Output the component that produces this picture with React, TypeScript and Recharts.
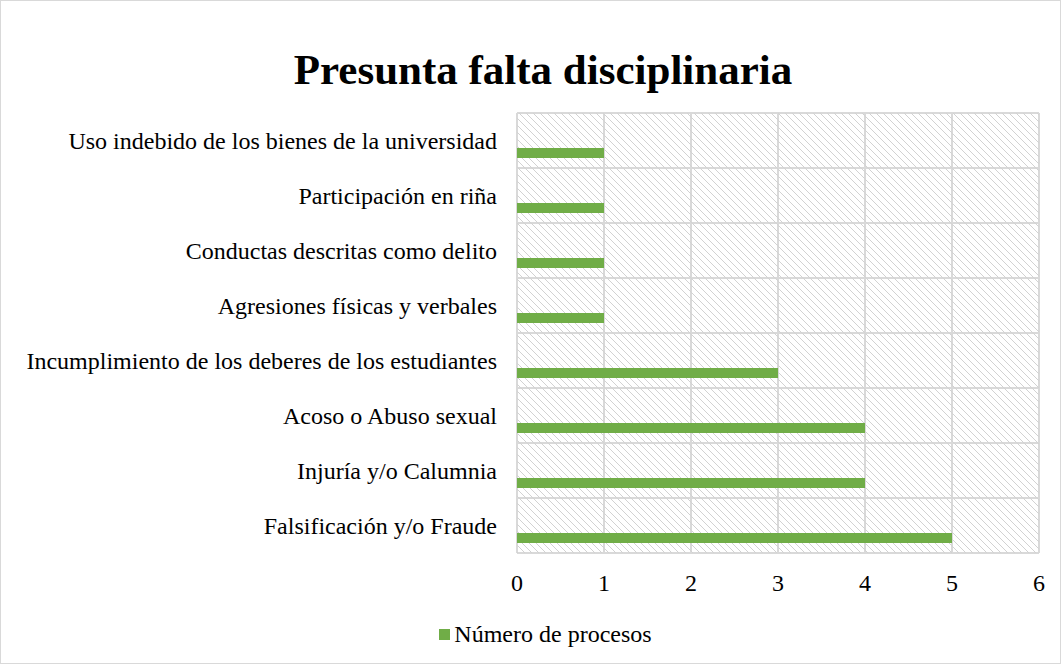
import React from 'react';
import { BarChart, Bar, XAxis, YAxis, CartesianGrid, ReferenceArea } from 'recharts';

const categories = [
  'Uso indebido de los bienes de la universidad',
  'Participación en riña',
  'Conductas descritas como delito',
  'Agresiones físicas y verbales',
  'Incumplimiento de los deberes de los estudiantes',
  'Acoso o Abuso sexual',
  'Injuría y/o Calumnia',
  'Falsificación y/o Fraude',
];
const procesos = [1, 1, 1, 1, 3, 4, 4, 5];
const xTicks = [0, 1, 2, 3, 4, 5, 6];

const data = categories.map((name, i) => ({ name, spacer: 0, procesos: procesos[i] }));

const FONT = '"Liberation Serif", "Times New Roman", serif';
const GREEN = '#70ad47';
const GRID = '#d9d9d9';

export default function App() {
  return (
    <div style={{ position: 'absolute', left: 0, top: 0, width: 1061, height: 664, background: '#fff' }}>
      <svg width="0" height="0" style={{ position: 'absolute' }}>
        <defs>
          <pattern id="hatch" width="7" height="7" patternUnits="userSpaceOnUse">
            <path d="M-1,-1 L8,8 M-4,3 L1,8 M3,-4 L11,4" stroke="#d2d2d2" strokeWidth="1" />
          </pattern>
        </defs>
      </svg>
      <div style={{ position: 'absolute', left: 0, top: 0, width: 1059, height: 662, border: `1px solid ${GRID}` }} />
      <div style={{ position: 'absolute', left: 0, top: 45, width: 1086, textAlign: 'center', fontFamily: FONT, fontWeight: 'bold', fontSize: 43, color: '#000' }}>
        Presunta falta disciplinaria
      </div>
      <BarChart
        width={1061}
        height={664}
        data={data}
        layout="vertical"
        margin={{ top: 113, right: 22, bottom: 81, left: 0 }}
        barSize={10}
        barGap={14}
        style={{ position: 'absolute', left: 0, top: 0 }}
      >
        <ReferenceArea x1={0} x2={6} fill="url(#hatch)" fillOpacity={1} stroke="none" ifOverflow="visible" />
        <CartesianGrid
          stroke={GRID}
          strokeWidth={2}
          horizontalCoordinatesGenerator={({ offset }: any) =>
            Array.from({ length: categories.length + 1 }, (_, i) => offset.top + (i * offset.height) / categories.length)
          }
        />
        <XAxis
          type="number"
          domain={[0, 6]}
          ticks={xTicks}
          height={30}
          axisLine={false}
          tickLine={false}
          tickSize={0}
          tickMargin={21}
          tick={{ fontSize: 24, fill: '#000', fontFamily: FONT }}
        />
        <YAxis
          type="category"
          dataKey="name"
          width={517}
          axisLine={false}
          tickLine={false}
          tickSize={0}
          tickMargin={20}
          interval={0}
          tick={{ fontSize: 24, fill: '#000', fontFamily: FONT }}
        />
        <Bar dataKey="spacer" fill="transparent" legendType="none" isAnimationActive={false} />
        <Bar dataKey="procesos" name="Número de procesos" fill={GREEN} isAnimationActive={false} />
      </BarChart>
      <div style={{ position: 'absolute', left: 0, top: 621, width: 1091, display: 'flex', justifyContent: 'center', alignItems: 'center', fontFamily: FONT, fontSize: 24, color: '#000' }}>
        <span style={{ display: 'inline-block', width: 11, height: 11, background: GREEN, marginRight: 4 }} />
        <span>Número de procesos</span>
      </div>
    </div>
  );
}
